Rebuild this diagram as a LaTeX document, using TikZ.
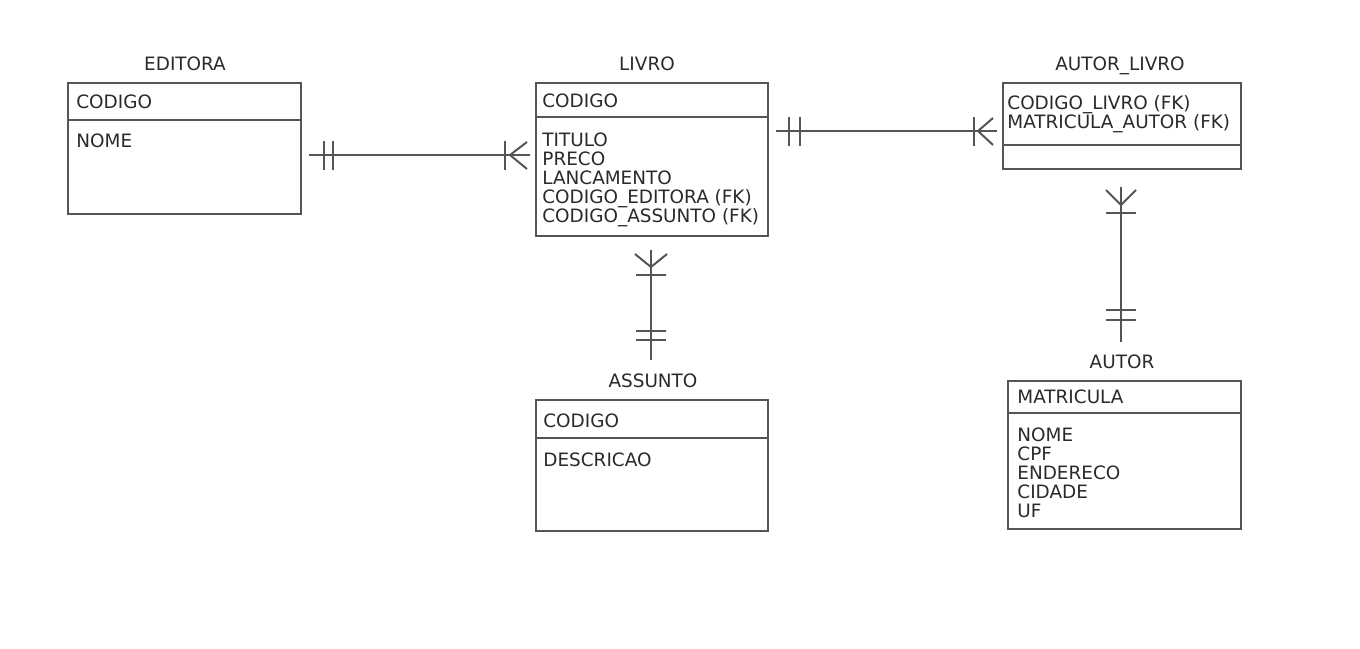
\documentclass[tikz,border=0pt]{standalone}
\usepackage{fontspec}
\setmainfont{DejaVu Sans}
\usetikzlibrary{calc}
\definecolor{ln}{HTML}{555555}
\definecolor{tx}{HTML}{2A2A2A}
\begin{document}
\begin{tikzpicture}[x=0.5pt,y=-0.5pt,
  tbl/.style={draw=ln,line width=1pt,inner sep=0pt,anchor=north west},
  sepline/.style={draw=ln,line width=1pt},
  rel/.style={draw=ln,line width=1pt},
  cmark/.style={draw=ln,line width=1pt},
  txt/.style={inner sep=0pt,anchor=base west,text=tx,font=\fontsize{9.2}{9.5}\selectfont},
  ttl/.style={inner sep=0pt,anchor=base,text=tx,font=\fontsize{9.2}{9.5}\selectfont}]
\fill[white] (0,0) rectangle (1360,648);
\useasboundingbox (0,0) rectangle (1360,648);

% EDITORA
\node[ttl] (t-editora) at (185,70.5) {EDITORA};
\node[tbl,minimum width=116.5pt,minimum height=65.5pt] (editora) at (67,82) {};
\draw[sepline] ([yshift=-19pt]editora.north west) -- ([yshift=-19pt]editora.north east);
\node[txt] (e1) at (76,108) {CODIGO};
\node[txt] (e2) at (76,147) {NOME};

% LIVRO
\node[ttl] (t-livro) at (647,70.5) {LIVRO};
\node[tbl,minimum width=116pt,minimum height=76.5pt] (livro) at (535,82) {};
\draw[sepline] ([yshift=-17.5pt]livro.north west) -- ([yshift=-17.5pt]livro.north east);
\node[txt] (l0) at (542,107) {CODIGO};
\node[txt] (l1) at (542,146) {TITULO};
\node[txt] (l2) at (542,165) {PRECO};
\node[txt] (l3) at (542,184) {LANCAMENTO};
\node[txt] (l4) at (542,203) {CODIGO\_EDITORA (FK)};
\node[txt] (l5) at (542,222) {CODIGO\_ASSUNTO (FK)};

% AUTOR_LIVRO
\node[ttl] (t-autorlivro) at (1120,70.5) {AUTOR\_LIVRO};
\node[tbl,minimum width=119pt,minimum height=43pt] (autorlivro) at (1002,82) {};
\draw[sepline] ([yshift=-31.5pt]autorlivro.north west) -- ([yshift=-31.5pt]autorlivro.north east);
\node[txt] (al1) at (1007,109) {CODIGO\_LIVRO (FK)};
\node[txt] (al2) at (1007,128) {MATRICULA\_AUTOR (FK)};

% AUTOR
\node[ttl] (t-autor) at (1122,368) {AUTOR};
\node[tbl,minimum width=116.5pt,minimum height=74pt] (autor) at (1007,380) {};
\draw[sepline] ([yshift=-16.5pt]autor.north west) -- ([yshift=-16.5pt]autor.north east);
\node[txt] (a0) at (1017,403) {MATRICULA};
\node[txt] (a1) at (1017,441) {NOME};
\node[txt] (a2) at (1017,460) {CPF};
\node[txt] (a3) at (1017,479) {ENDERECO};
\node[txt] (a4) at (1017,498) {CIDADE};
\node[txt] (a5) at (1017,517) {UF};

% ASSUNTO
\node[ttl] (t-assunto) at (653,387) {ASSUNTO};
\node[tbl,minimum width=116pt,minimum height=65.5pt] (assunto) at (535,399) {};
\draw[sepline] ([yshift=-19.5pt]assunto.north west) -- ([yshift=-19.5pt]assunto.north east);
\node[txt] (s0) at (543,427) {CODIGO};
\node[txt] (s1) at (543,466) {DESCRICAO};

% ---- connectors ----
\coordinate (y1) at (0,155);
\coordinate (y2) at (0,131);
\coordinate (x3) at (651,0);
\coordinate (x4) at (1121,0);

% EDITORA -- LIVRO
\coordinate (r1a) at ([xshift=3.5pt]editora.east |- y1);
\coordinate (r1b) at ([xshift=-2.5pt]livro.west |- y1);
\draw[rel] (r1a) -- (r1b);
\draw[cmark] ([shift={(15,-14)}]r1a) -- ++(0,29);
\draw[cmark] ([shift={(24,-14)}]r1a) -- ++(0,29);
\draw[cmark] ([shift={(-25,-14)}]r1b) -- ++(0,29);
\draw[cmark] ([shift={(-3,-13)}]r1b) -- ([shift={(-20,0)}]r1b) -- ([shift={(-3,14)}]r1b);

% LIVRO -- AUTOR_LIVRO
\coordinate (r2a) at ([xshift=3.5pt]livro.east |- y2);
\coordinate (r2b) at ([xshift=-2.5pt]autorlivro.west |- y2);
\draw[rel] (r2a) -- (r2b);
\draw[cmark] ([shift={(13,-14)}]r2a) -- ++(0,29);
\draw[cmark] ([shift={(24,-14)}]r2a) -- ++(0,29);
\draw[cmark] ([shift={(-23,-14)}]r2b) -- ++(0,29);
\draw[cmark] ([shift={(-4,-13)}]r2b) -- ([shift={(-19,0)}]r2b) -- ([shift={(-4,14)}]r2b);

% LIVRO -- ASSUNTO
\coordinate (r3a) at ([yshift=-6.5pt]livro.south -| x3);
\coordinate (r3b) at ([yshift=6.7pt]t-assunto.north -| x3);
\draw[rel] (r3a) -- (r3b);
\draw[cmark] ([shift={(-15,25)}]r3a) -- ++(30,0);
\draw[cmark] ([shift={(-16,4)}]r3a) -- ([shift={(0,17)}]r3a) -- ([shift={(16,4)}]r3a);
\draw[cmark] ([shift={(-15,-29)}]r3b) -- ++(30,0);
\draw[cmark] ([shift={(-15,-20)}]r3b) -- ++(30,0);

% AUTOR_LIVRO -- AUTOR
\coordinate (r4a) at ([yshift=-8.5pt]autorlivro.south -| x4);
\coordinate (r4b) at ([yshift=6pt]t-autor.north -| x4);
\draw[rel] (r4a) -- (r4b);
\draw[cmark] ([shift={(-15,26)}]r4a) -- ++(30,0);
\draw[cmark] ([shift={(-15,3)}]r4a) -- ([shift={(0,18)}]r4a) -- ([shift={(15,3)}]r4a);
\draw[cmark] ([shift={(-15,-32)}]r4b) -- ++(30,0);
\draw[cmark] ([shift={(-15,-22)}]r4b) -- ++(30,0);
\end{tikzpicture}
\end{document}
